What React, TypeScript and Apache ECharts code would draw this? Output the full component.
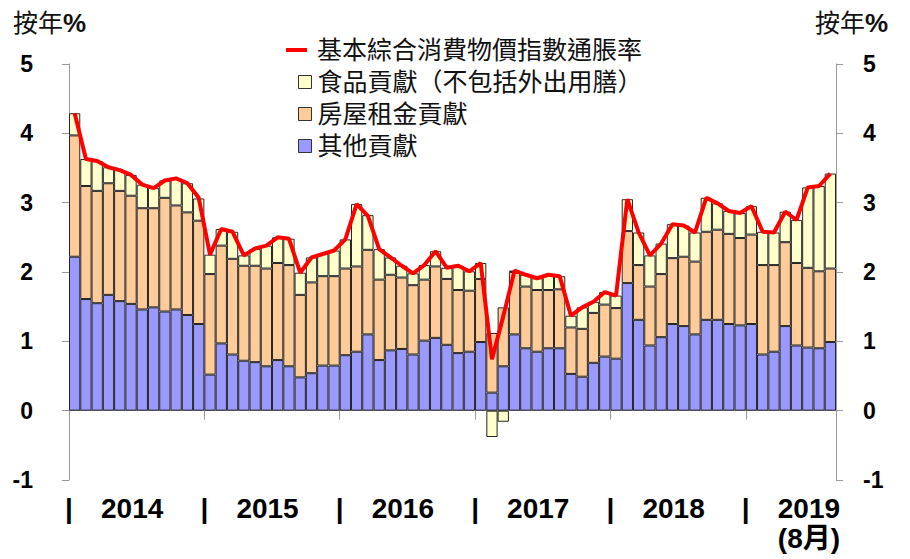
import React, { useEffect, useRef } from 'react';
import * as echarts from 'echarts';

// ---- data ----
const years = ['2014', '2015', '2016', '2017', '2018', '2019'];
const monthsPerYear = [12, 12, 12, 12, 12, 8];
const months: string[] = [];
years.forEach((y, i) => {
  for (let m = 1; m <= monthsPerYear[i]; m++) months.push(`${y}-${m < 10 ? '0' + m : m}`);
});

const yearLabels = ['2014', '2015', '2016', '2017', '2018', '2019\n(8月)'];

// 其他貢獻 (bottom)
const otherContribution = [
  2.22, 1.61, 1.55, 1.67, 1.58, 1.54, 1.46, 1.49, 1.43, 1.46, 1.38, 1.25,
  0.52, 0.97, 0.81, 0.72, 0.70, 0.64, 0.73, 0.64, 0.48, 0.54, 0.65, 0.65,
  0.80, 0.85, 1.10, 0.73, 0.87, 0.89, 0.81, 1.01, 1.05, 0.95, 0.83, 0.85,
  0.99, 0.26, 0.64, 1.10, 0.90, 0.85, 0.90, 0.90, 0.53, 0.49, 0.69, 0.78,
  0.75, 1.84, 1.31, 0.94, 1.06, 1.25, 1.22, 1.10, 1.31, 1.31, 1.25, 1.23,
  1.25, 0.81, 0.85, 1.22, 0.94, 0.91, 0.90, 0.99,
];

// 房屋租金貢獻 (middle)
const housingContribution = [
  1.75, 1.63, 1.62, 1.61, 1.59, 1.56, 1.46, 1.43, 1.64, 1.50, 1.48, 1.49,
  1.45, 1.41, 1.38, 1.37, 1.39, 1.41, 1.40, 1.46, 1.19, 1.31, 1.29, 1.29,
  1.25, 1.23, 1.22, 1.16, 1.09, 1.03, 1.00, 0.88, 1.03, 0.95, 0.91, 0.88,
  0.91, 0.86, 0.85, 0.90, 0.89, 0.89, 0.84, 0.85, 0.67, 0.69, 0.72, 0.75,
  0.73, 0.75, 0.79, 0.85, 0.91, 0.95, 1.00, 1.05, 1.27, 1.30, 1.30, 1.26,
  1.29, 1.29, 1.25, 1.21, 1.19, 1.15, 1.11, 1.06,
];

// 食品貢獻（不包括外出用膳） (top)
const foodContribution = [
  0.32, 0.39, 0.43, 0.23, 0.30, 0.30, 0.34, 0.29, 0.25, 0.39, 0.42, 0.32,
  0.28, 0.24, 0.39, 0.15, 0.24, 0.33, 0.37, 0.38, 0.32, 0.36, 0.32, 0.37,
  0.42, 0.90, 0.50, 0.44, 0.25, 0.17, 0.17, 0.21, 0.22, 0.16, 0.35, 0.28,
  0.23, -0.38, -0.16, 0.02, 0.17, 0.17, 0.22, 0.19, 0.17, 0.31, 0.16, 0.18,
  0.18, 0.46, 0.47, 0.45, 0.44, 0.49, 0.45, 0.42, 0.49, 0.38, 0.33, 0.36,
  0.41, 0.48, 0.47, 0.44, 0.62, 1.16, 1.23, 1.37,
];

// 基本綜合消費物價指數通脹率
const underlyingInflation = [
  4.29, 3.63, 3.60, 3.51, 3.47, 3.40, 3.26, 3.21, 3.32, 3.35, 3.28, 3.07,
  2.25, 2.62, 2.58, 2.24, 2.34, 2.38, 2.50, 2.48, 1.99, 2.21, 2.26, 2.31,
  2.47, 2.98, 2.81, 2.33, 2.21, 2.09, 1.98, 2.10, 2.30, 2.06, 2.09, 2.01,
  2.13, 0.74, 1.36, 2.02, 1.96, 1.91, 1.96, 1.94, 1.37, 1.49, 1.57, 1.71,
  1.66, 3.05, 2.57, 2.24, 2.41, 2.69, 2.67, 2.57, 3.07, 2.99, 2.88, 2.85,
  2.95, 2.58, 2.57, 2.87, 2.75, 3.22, 3.24, 3.42,
];

const seriesNames = {
  line: '基本綜合消費物價指數通脹率',
  food: '食品貢獻（不包括外出用膳）',
  housing: '房屋租金貢獻',
  other: '其他貢獻',
};

// ---- layout helpers ----
const axisGray = '#9a9a9a';
const latinFont = '"Liberation Sans", Arial, Helvetica, sans-serif';
const cjkFont = '"Liberation Sans", Arial, "Noto Sans CJK TC", sans-serif';

const yearStarts: number[] = [];
{
  let s = 0;
  monthsPerYear.forEach((n) => {
    yearStarts.push(s);
    s += n;
  });
}
const labelValues: number[] = [];
const labelTexts = new Map<string, string>();
yearStarts.forEach((s, i) => {
  labelValues.push(s);
  labelTexts.set(s.toFixed(2), '|');
  const c = s + 5.6;
  labelValues.push(c);
  labelTexts.set(c.toFixed(2), yearLabels[i]);
});

function buildOption(): any {
  const barBorder = { borderColor: '#262626', borderWidth: 1 };
  const yAxisCommon = {
    type: 'value',
    min: -1,
    max: 5,
    interval: 1,
    splitLine: { show: false },
    axisLine: { show: true, lineStyle: { color: axisGray, width: 1 } },
    axisTick: { show: true, inside: false, length: 7, lineStyle: { color: axisGray } },
  };
  const titleRich = {
    a: { fontSize: 25, fontFamily: cjkFont, fill: '#111' },
    b: { fontSize: 26, fontFamily: latinFont, fontWeight: 'bold', fill: '#111' },
  };
  return {
    animation: false,
    backgroundColor: '#ffffff',
    grid: { left: 69, right: 74, top: 64, bottom: 79, containLabel: false },
    legend: [
      {
        orient: 'vertical',
        left: 286,
        top: 34,
        padding: 0,
        itemGap: 0,
        itemWidth: 21,
        itemHeight: 4,
        selectedMode: false,
        data: [{ name: seriesNames.line, icon: 'rect' }],
        itemStyle: { color: '#FF0000', borderWidth: 0 },
        textStyle: { fontSize: 25, fontFamily: cjkFont, color: '#111', lineHeight: 32, padding: [0, 0, 0, 5] },
      },
      {
        orient: 'vertical',
        left: 298,
        top: 66,
        padding: 0,
        itemGap: 0,
        itemWidth: 13,
        itemHeight: 13,
        icon: 'rect',
        selectedMode: false,
        data: [seriesNames.food, seriesNames.housing, seriesNames.other],
        itemStyle: { borderColor: '#333', borderWidth: 1 },
        textStyle: { fontSize: 25, fontFamily: cjkFont, color: '#111', lineHeight: 32, padding: [0, 0, 0, 1] },
      },
    ],
    xAxis: [
      {
        type: 'category',
        data: months,
        boundaryGap: true,
        axisLine: { show: true, onZero: true, lineStyle: { color: axisGray, width: 1 } },
        axisTick: {
          show: true,
          length: 9,
          interval: (index: number) => index % 12 === 0,
          lineStyle: { color: axisGray },
        },
        axisLabel: { show: false },
        splitLine: { show: false },
      },
      {
        type: 'value',
        position: 'bottom',
        min: 0,
        max: months.length,
        axisLine: { show: false, onZero: false },
        axisTick: { show: false },
        splitLine: { show: false },
        axisLabel: {
          show: true,
          customValues: labelValues,
          margin: 13,
          fontSize: 28,
          fontWeight: 'bold',
          fontFamily: cjkFont,
          color: '#000',
          lineHeight: 30,
          formatter: (v: number) => labelTexts.get(Number(v).toFixed(2)) ?? '',
        },
      },
    ],
    yAxis: [
      {
        ...yAxisCommon,
        position: 'left',
        axisLabel: { margin: 36, fontSize: 23, fontWeight: 'bold', fontFamily: latinFont, color: '#000' },
      },
      {
        ...yAxisCommon,
        position: 'right',
        axisLabel: { margin: 27, fontSize: 23, fontWeight: 'bold', fontFamily: latinFont, color: '#000' },
      },
    ],
    graphic: [
      {
        type: 'text',
        x: 13,
        y: 23,
        style: { text: '{a|按年}{b|%}', rich: titleRich, align: 'left', verticalAlign: 'middle' },
      },
      {
        type: 'text',
        x: 815,
        y: 23,
        style: { text: '{a|按年}{b|%}', rich: titleRich, align: 'left', verticalAlign: 'middle' },
      },
    ],
    series: [
      {
        name: seriesNames.other,
        type: 'bar',
        stack: 'cpi',
        barCategoryGap: '0%',
        data: otherContribution,
        itemStyle: { color: '#9999FF', ...barBorder },
      },
      {
        name: seriesNames.housing,
        type: 'bar',
        stack: 'cpi',
        barCategoryGap: '0%',
        data: housingContribution,
        itemStyle: { color: '#FFCC99', ...barBorder },
      },
      {
        name: seriesNames.food,
        type: 'bar',
        stack: 'cpi',
        barCategoryGap: '0%',
        data: foodContribution,
        itemStyle: { color: '#FFFFCC', ...barBorder },
      },
      {
        name: seriesNames.line,
        type: 'line',
        data: underlyingInflation,
        symbol: 'none',
        showSymbol: false,
        z: 5,
        lineStyle: { color: '#FF0000', width: 4 },
        itemStyle: { color: '#FF0000' },
      },
    ],
  };
}

export default function App() {
  const ref = useRef<HTMLDivElement>(null);
  useEffect(() => {
    if (!ref.current) return;
    const chart = echarts.init(ref.current, null, { renderer: 'svg' });
    chart.setOption(buildOption());
    return () => {
      chart.dispose();
    };
  }, []);
  return (
    <div
      ref={ref}
      style={{ position: 'fixed', left: 0, top: 0, width: 910, height: 559, background: '#fff' }}
    />
  );
}
